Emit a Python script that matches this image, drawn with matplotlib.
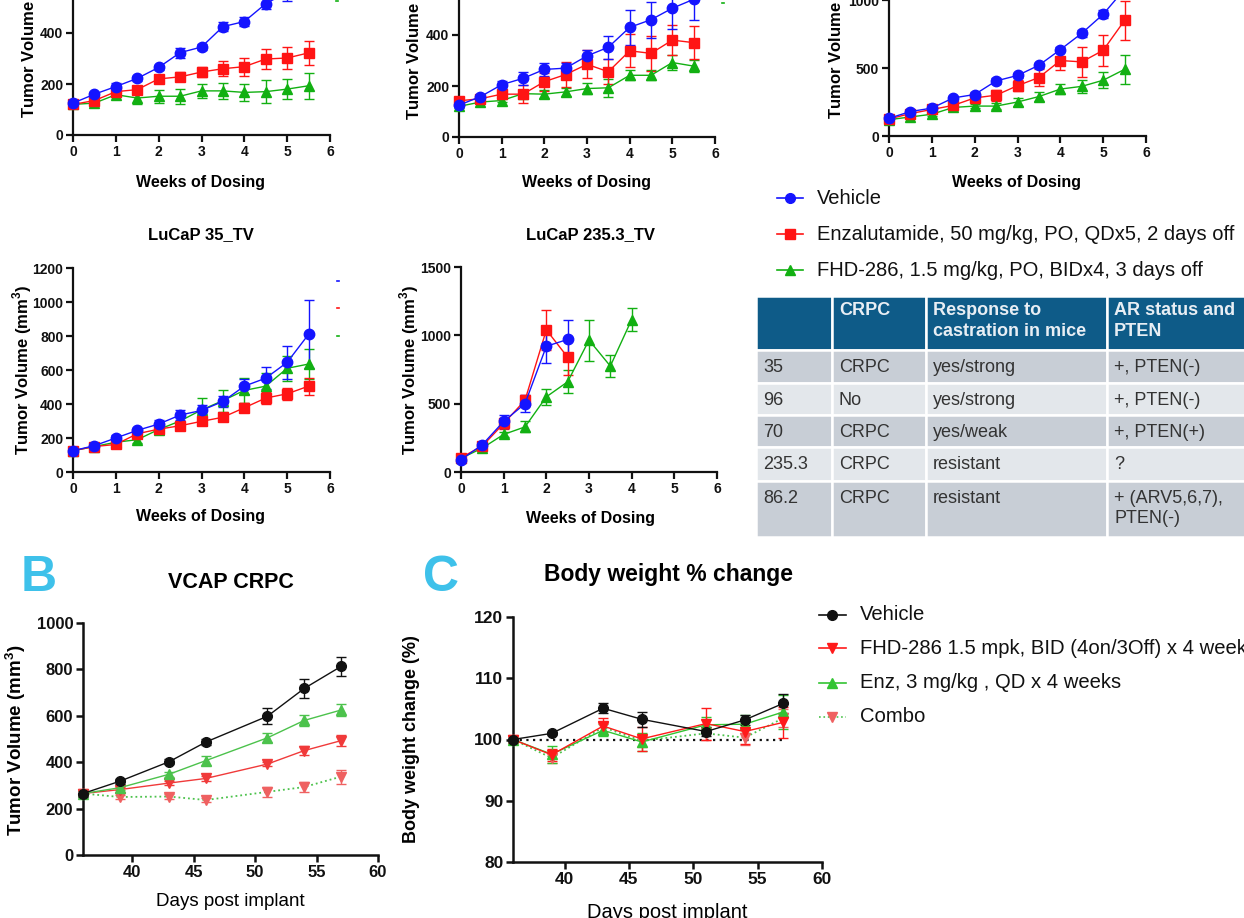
import matplotlib
matplotlib.use('Agg')
import matplotlib.pyplot as plt
from matplotlib.lines import Line2D
from matplotlib.patches import Rectangle

plt.rcParams['font.family'] = ['Liberation Sans', 'DejaVu Sans']
plt.rcParams['mathtext.fontset'] = 'custom'
plt.rcParams['mathtext.bf'] = 'Liberation Sans:bold'
plt.rcParams['mathtext.rm'] = 'Liberation Sans'

# ---------------- data ----------------
weeks = [0, 0.5, 1, 1.5, 2, 2.5, 3, 3.5, 4, 4.5, 5, 5.5]

# Panel A1 (top-left, cropped)
a1_veh = [125, 160, 190, 222, 265, 323, 345, 425, 445, 515, 560, 600]
a1_veh_e = [5, 8, 15, 10, 10, 20, 10, 18, 18, 22, 35, 35]
a1_enz = [120, 135, 170, 178, 220, 228, 247, 260, 268, 298, 302, 322]
a1_enz_e = [5, 10, 10, 12, 12, 18, 20, 30, 35, 40, 45, 48]
a1_fhd = [120, 125, 158, 145, 152, 152, 173, 173, 167, 170, 180, 193]
a1_fhd_e = [5, 8, 10, 25, 25, 30, 28, 30, 32, 45, 40, 52]

# Panel A2 (top-middle, cropped)
a2_veh = [125, 158, 205, 230, 265, 270, 318, 352, 430, 460, 505, 540]
a2_veh_e = [5, 8, 15, 25, 25, 20, 25, 45, 70, 70, 80, 80]
a2_enz = [142, 150, 168, 168, 217, 245, 285, 256, 338, 328, 380, 370]
a2_enz_e = [5, 8, 10, 35, 35, 50, 55, 50, 65, 70, 60, 65]
a2_fhd = [120, 137, 143, 170, 168, 177, 190, 193, 242, 242, 292, 278]
a2_fhd_e = [5, 5, 5, 10, 15, 15, 20, 35, 20, 20, 30, 25]

# Panel A3 (top-right, cropped)
a3_veh = [130, 180, 205, 280, 305, 405, 445, 520, 635, 755, 895, 1080]
a3_veh_e = [10, 10, 15, 15, 15, 20, 20, 20, 20, 25, 30, 30]
a3_enz = [125, 165, 195, 225, 280, 300, 370, 430, 555, 545, 630, 850]
a3_enz_e = [10, 10, 10, 20, 20, 40, 40, 60, 70, 110, 115, 145]
a3_fhd = [120, 140, 160, 210, 220, 220, 250, 290, 345, 365, 410, 490]
a3_fhd_e = [5, 10, 10, 15, 15, 20, 30, 30, 35, 50, 60, 105]

# LuCaP 35_TV
l35_veh = [125, 155, 200, 245, 282, 335, 362, 415, 505, 552, 645, 810]
l35_veh_e = [10, 10, 15, 15, 25, 30, 30, 35, 45, 65, 95, 200]
l35_enz = [125, 150, 162, 225, 252, 272, 298, 322, 378, 435, 460, 505]
l35_enz_e = [10, 10, 15, 15, 20, 20, 20, 20, 25, 35, 35, 50]
l35_fhd = [125, 150, 175, 190, 250, 300, 365, 420, 480, 505, 610, 635]
l35_fhd_e = [10, 10, 15, 20, 25, 30, 70, 65, 75, 80, 75, 90]

# LuCaP 235.3_TV
l235_weeks_short = [0, 0.5, 1, 1.5, 2, 2.5]
l235_weeks_long = [0, 0.5, 1, 1.5, 2, 2.5, 3, 3.5, 4]
l235_veh = [90, 200, 370, 500, 920, 970]
l235_veh_e = [10, 15, 50, 60, 120, 140]
l235_enz = [105, 190, 355, 525, 1040, 840]
l235_enz_e = [10, 15, 40, 40, 145, 130]
l235_fhd = [100, 175, 275, 330, 550, 660, 965, 775, 1115]
l235_fhd_e = [10, 15, 20, 40, 60, 85, 150, 80, 85]

legA_labels = ["Vehicle",
               "Enzalutamide, 50 mg/kg, PO, QDx5, 2 days off",
               "FHD-286, 1.5 mg/kg, PO, BIDx4, 3 days off"]

# Table
tbl_header = ["", "CRPC", "Response to\ncastration in mice", "AR status and\nPTEN"]
tbl_rows = [["35", "CRPC", "yes/strong", "+, PTEN(-)"],
            ["96", "No", "yes/strong", "+, PTEN(-)"],
            ["70", "CRPC", "yes/weak", "+, PTEN(+)"],
            ["235.3", "CRPC", "resistant", "?"],
            ["86.2", "CRPC", "resistant", "+ (ARV5,6,7),\nPTEN(-)"]]

# Panel B  VCAP CRPC
days = [36, 39, 43, 46, 51, 54, 57]
b_veh = [265, 318, 402, 487, 598, 718, 813]
b_veh_e = [15, 10, 10, 15, 35, 40, 40]
b_enz = [265, 290, 348, 407, 505, 580, 625]
b_enz_e = [10, 10, 10, 20, 20, 25, 25]
b_fhd = [265, 282, 310, 330, 392, 450, 493]
b_fhd_e = [10, 10, 10, 10, 10, 20, 25]
b_combo = [265, 250, 252, 237, 272, 293, 338]
b_combo_e = [10, 10, 10, 10, 20, 20, 30]

# Panel C  Body weight
c_veh = [100, 101.0, 105.1, 103.3, 101.3, 103.2, 105.9]
c_veh_e = [0.3, 0.3, 0.8, 1.2, 0.8, 0.8, 1.5]
c_fhd = [100, 97.5, 102.2, 100.1, 102.6, 101.3, 102.8]
c_fhd_e = [0.5, 1.0, 1.3, 2.0, 2.6, 2.0, 2.5]
c_enz = [100, 97.6, 101.5, 99.6, 102.4, 102.5, 104.5]
c_enz_e = [0.5, 1.4, 1.0, 1.5, 1.3, 1.5, 2.8]
c_combo = [100, 97.0, 102.0, 99.8, 101.0, 100.3, 103.5]
c_combo_e = [0.4, 0.8, 0.8, 1.0, 1.0, 1.2, 1.5]
c_labels = ["Vehicle", "FHD-286 1.5 mpk, BID (4on/3Off) x 4 weeks",
            "Enz, 3 mg/kg , QD x 4 weeks", "Combo"]

# ---------------- figure ----------------
W, H = 1244, 918
fig = plt.figure(figsize=(W / 100, H / 100), dpi=100)
fig.patch.set_facecolor('white')

BLUE, RED, GREEN = '#1414ff', '#ff1414', '#12b012'
B_BLK, B_GRN, B_RED, B_CMB = '#111111', '#4cc24c', '#f03a3a', '#ef6161'
TXT = '#111111'


def ax_px(x0, x1, ytop, ybot):
    return fig.add_axes([x0 / W, 1 - ybot / H, (x1 - x0) / W, (ybot - ytop) / H])


def ftext(x, y, s, **kw):
    return fig.text(x / W, 1 - y / H, s, **kw)


def style(ax, tfs, lw=1.6):
    for s in ('top', 'right'):
        ax.spines[s].set_visible(False)
    for s in ('left', 'bottom'):
        ax.spines[s].set_linewidth(lw)
        ax.spines[s].set_color('#111111')
    ax.tick_params(axis='both', width=lw, length=5, labelsize=tfs, colors='#111111',
                   pad=2)
    for lab in ax.get_xticklabels() + ax.get_yticklabels():
        lab.set_fontweight('bold')
    ax.set_facecolor('none')


def eb(ax, x, y, e, color, marker, ms, ls='-', lw=1.0, mfc=None, lc=None):
    ax.errorbar(x, y, yerr=e, color=lc or color, marker=marker, ms=ms, ls=ls, lw=lw,
                mfc=mfc or color, mec=mfc or color, ecolor=mfc or color,
                elinewidth=1.0, capsize=3.5, capthick=1.0, clip_on=False, zorder=3)


def panelA(ax, series, ymax, ystep):
    for (x, y, e, c, m, ms) in series:
        eb(ax, x, y, e, c, m, ms)
    ax.set_xlim(0, 6)
    ax.set_ylim(0, ymax)
    ax.set_xticks(range(0, 7))
    ax.set_yticks(range(0, ymax + 1, ystep))
    style(ax, 10)


ylab_tv = r'Tumor Volume (mm$^{\mathbf{3}}$)'
XL_FS = 11.5
YL_FS = 12

# A1
ax1 = ax_px(73, 330, -69, 135)
panelA(ax1, [(weeks, a1_fhd, a1_fhd_e, GREEN, '^', 7.5),
             (weeks, a1_enz, a1_enz_e, RED, 's', 7),
             (weeks, a1_veh, a1_veh_e, BLUE, 'o', 7.5)], 800, 200)
ftext(28, 33, ylab_tv, rotation=90, ha='center', va='center', fontsize=YL_FS, fontweight='bold')
ftext(201, 182, 'Weeks of Dosing', ha='center', va='center', fontsize=XL_FS, fontweight='bold')

# A2
ax2 = ax_px(459, 715, -67, 137)
panelA(ax2, [(weeks, a2_fhd, a2_fhd_e, GREEN, '^', 7.5),
             (weeks, a2_enz, a2_enz_e, RED, 's', 7),
             (weeks, a2_veh, a2_veh_e, BLUE, 'o', 7.5)], 800, 200)
ftext(413, 35, ylab_tv, rotation=90, ha='center', va='center', fontsize=YL_FS, fontweight='bold')
ftext(587, 183, 'Weeks of Dosing', ha='center', va='center', fontsize=XL_FS, fontweight='bold')

# A3
ax3 = ax_px(889, 1146, -68, 136)
panelA(ax3, [(weeks, a3_fhd, a3_fhd_e, GREEN, '^', 7.5),
             (weeks, a3_enz, a3_enz_e, RED, 's', 7),
             (weeks, a3_veh, a3_veh_e, BLUE, 'o', 7.5)], 1500, 500)
ftext(835, 34, ylab_tv, rotation=90, ha='center', va='center', fontsize=YL_FS, fontweight='bold')
ftext(1017, 183, 'Weeks of Dosing', ha='center', va='center', fontsize=XL_FS, fontweight='bold')

# white cover that clips the third x label (as in the source crop)
fig.add_artist(Rectangle((770 / W, 1 - 290 / H), 480 / W, (290 - 185) / H,
                         transform=fig.transFigure, facecolor='white', edgecolor='none',
                         zorder=1))

# LuCaP 35
ax4 = ax_px(73, 330, 268, 472)
panelA(ax4, [(weeks, l35_fhd, l35_fhd_e, GREEN, '^', 7.5),
             (weeks, l35_enz, l35_enz_e, RED, 's', 7),
             (weeks, l35_veh, l35_veh_e, BLUE, 'o', 7.5)], 1200, 200)
ftext(201, 235, 'LuCaP 35_TV', ha='center', va='center', fontsize=12, fontweight='bold')
ftext(22, 370, ylab_tv, rotation=90, ha='center', va='center', fontsize=YL_FS, fontweight='bold')
ftext(201, 517, 'Weeks of Dosing', ha='center', va='center', fontsize=XL_FS, fontweight='bold')

# LuCaP 235.3
ax5 = ax_px(461, 717, 267, 472)
panelA(ax5, [(l235_weeks_long, l235_fhd, l235_fhd_e, GREEN, '^', 7.5),
             (l235_weeks_short, l235_enz, l235_enz_e, RED, 's', 7),
             (l235_weeks_short, l235_veh, l235_veh_e, BLUE, 'o', 7.5)], 1500, 500)
ftext(590, 235, 'LuCaP 235.3_TV', ha='center', va='center', fontsize=12, fontweight='bold')
ftext(409, 370, ylab_tv, rotation=90, ha='center', va='center', fontsize=YL_FS, fontweight='bold')
ftext(590, 518, 'Weeks of Dosing', ha='center', va='center', fontsize=XL_FS, fontweight='bold')

# small legend remnants from the cropped source
for (x, y, c) in [(338, 281, BLUE), (338, 308, RED), (338, 336, GREEN),
                  (337, 1, GREEN), (723, 3, GREEN)]:
    fig.add_artist(Line2D([(x - 1) / W, (x + 1) / W], [1 - y / H, 1 - y / H],
                          transform=fig.transFigure, color=c, lw=1.2, zorder=2))


# legend helper
def leg_entry(xa, xb, y, color, marker, ms, text, fs, xt, ls='-', mcol=None):
    fig.add_artist(Line2D([xa / W, xb / W], [1 - y / H, 1 - y / H], transform=fig.transFigure,
                          color=color, lw=1.2, ls=ls, zorder=4))
    fig.add_artist(Line2D([(xa + xb) / 2 / W], [1 - y / H], transform=fig.transFigure,
                          color=mcol or color, marker=marker, ms=ms, ls='none', zorder=5))
    ftext(xt, y, text, ha='left', va='center', fontsize=fs, color=TXT, zorder=6)


for (y, c, m, ms, t) in zip([198, 234, 270], [BLUE, RED, GREEN], ['o', 's', '^'],
                            [7, 6.5, 7], legA_labels):
    leg_entry(777, 803, y, c, m, ms, t, 14.5, 817)

# table
col_x = [756, 832, 926, 1107, 1250]
row_y = [296, 350, 383, 415, 447, 481, 537]
HEAD = '#0e5b88'
ROW_C = ['#c8ced6', '#e3e7eb']
for ci in range(4):
    x0, x1 = col_x[ci], col_x[ci + 1]
    for ri in range(6):
        y0, y1 = row_y[ri], row_y[ri + 1]
        fc = HEAD if ri == 0 else ROW_C[(ri - 1) % 2]
        fig.add_artist(Rectangle((x0 / W, 1 - y1 / H), (x1 - x0) / W, (y1 - y0) / H,
                                 transform=fig.transFigure, facecolor=fc,
                                 edgecolor='white', lw=1.8, zorder=2))
for ci, h in enumerate(tbl_header):
    if h:
        ftext(col_x[ci] + 7, 302, h, ha='left', va='top', fontsize=13, fontweight='bold',
              color='#e8eef4', linespacing=1.3, zorder=6)
for ri, row in enumerate(tbl_rows):
    y0 = row_y[ri + 1]
    for ci, s in enumerate(row):
        ftext(col_x[ci] + 7, y0 + 9, s, ha='left', va='top', fontsize=13, color='#333333',
              linespacing=1.25, zorder=6)

# ---------------- Panel B ----------------
axB = ax_px(83, 378, 623, 855)
eb(axB, days, b_combo, b_combo_e, B_CMB, 'v', 7, ls=':', lw=1.3, lc=B_GRN)
eb(axB, days, b_fhd, b_fhd_e, B_RED, 'v', 6.5)
eb(axB, days, b_enz, b_enz_e, B_GRN, '^', 6.5)
eb(axB, days, b_veh, b_veh_e, B_BLK, 'o', 7)
axB.set_xlim(36, 60)
axB.set_ylim(0, 1000)
axB.set_xticks([40, 45, 50, 55, 60])
axB.set_yticks(range(0, 1001, 200))
style(axB, 12, lw=1.8)
ftext(39, 578, 'B', ha='center', va='center', fontsize=36, fontweight='bold', color='#3ec1ea')
ftext(231, 583, 'VCAP CRPC', ha='center', va='center', fontsize=15.5, fontweight='bold')
ftext(16, 740, ylab_tv, rotation=90, ha='center', va='center', fontsize=13.5, fontweight='bold')
ftext(230, 902, 'Days post implant', ha='center', va='center', fontsize=13.5)

# ---------------- Panel C ----------------
axC = ax_px(513, 822, 617, 862)
axC.plot([36, 57], [100, 100], ls=(0, (1, 2)), color='#111111', lw=1.6, zorder=1)
eb(axC, days, c_combo, c_combo_e, B_CMB, 'v', 6.5, ls=':', lw=1.3, lc=B_GRN)
eb(axC, days, c_enz, c_enz_e, '#33c433', '^', 6.5)
eb(axC, days, c_fhd, c_fhd_e, '#ff1a1a', 'v', 7)
eb(axC, days, c_veh, c_veh_e, B_BLK, 'o', 7)
axC.set_xlim(36, 60)
axC.set_ylim(80, 120)
axC.set_xticks([40, 45, 50, 55, 60])
axC.set_yticks([80, 90, 100, 110, 120])
style(axC, 12.5, lw=1.8)
ftext(441, 578, 'C', ha='center', va='center', fontsize=36, fontweight='bold', color='#3ec1ea')
ftext(669, 575, 'Body weight % change', ha='center', va='center', fontsize=16.5, fontweight='bold')
ftext(412, 739, 'Body weight change (%)', rotation=90, ha='center', va='center', fontsize=13,
      fontweight='bold')
ftext(667, 912, 'Days post implant', ha='center', va='center', fontsize=14.5)

for (y, c, m, t, ls, mc) in zip([615, 648, 683, 717],
                                [B_BLK, '#ff1a1a', '#33c433', B_GRN],
                                ['o', 'v', '^', 'v'], c_labels,
                                ['-', '-', '-', ':'],
                                [B_BLK, '#ff1a1a', '#33c433', B_CMB]):
    leg_entry(819, 846, y, c, m, 7, t, 14.6, 860, ls=ls, mcol=mc)

fig.savefig('out.png', dpi=100, facecolor='white')
